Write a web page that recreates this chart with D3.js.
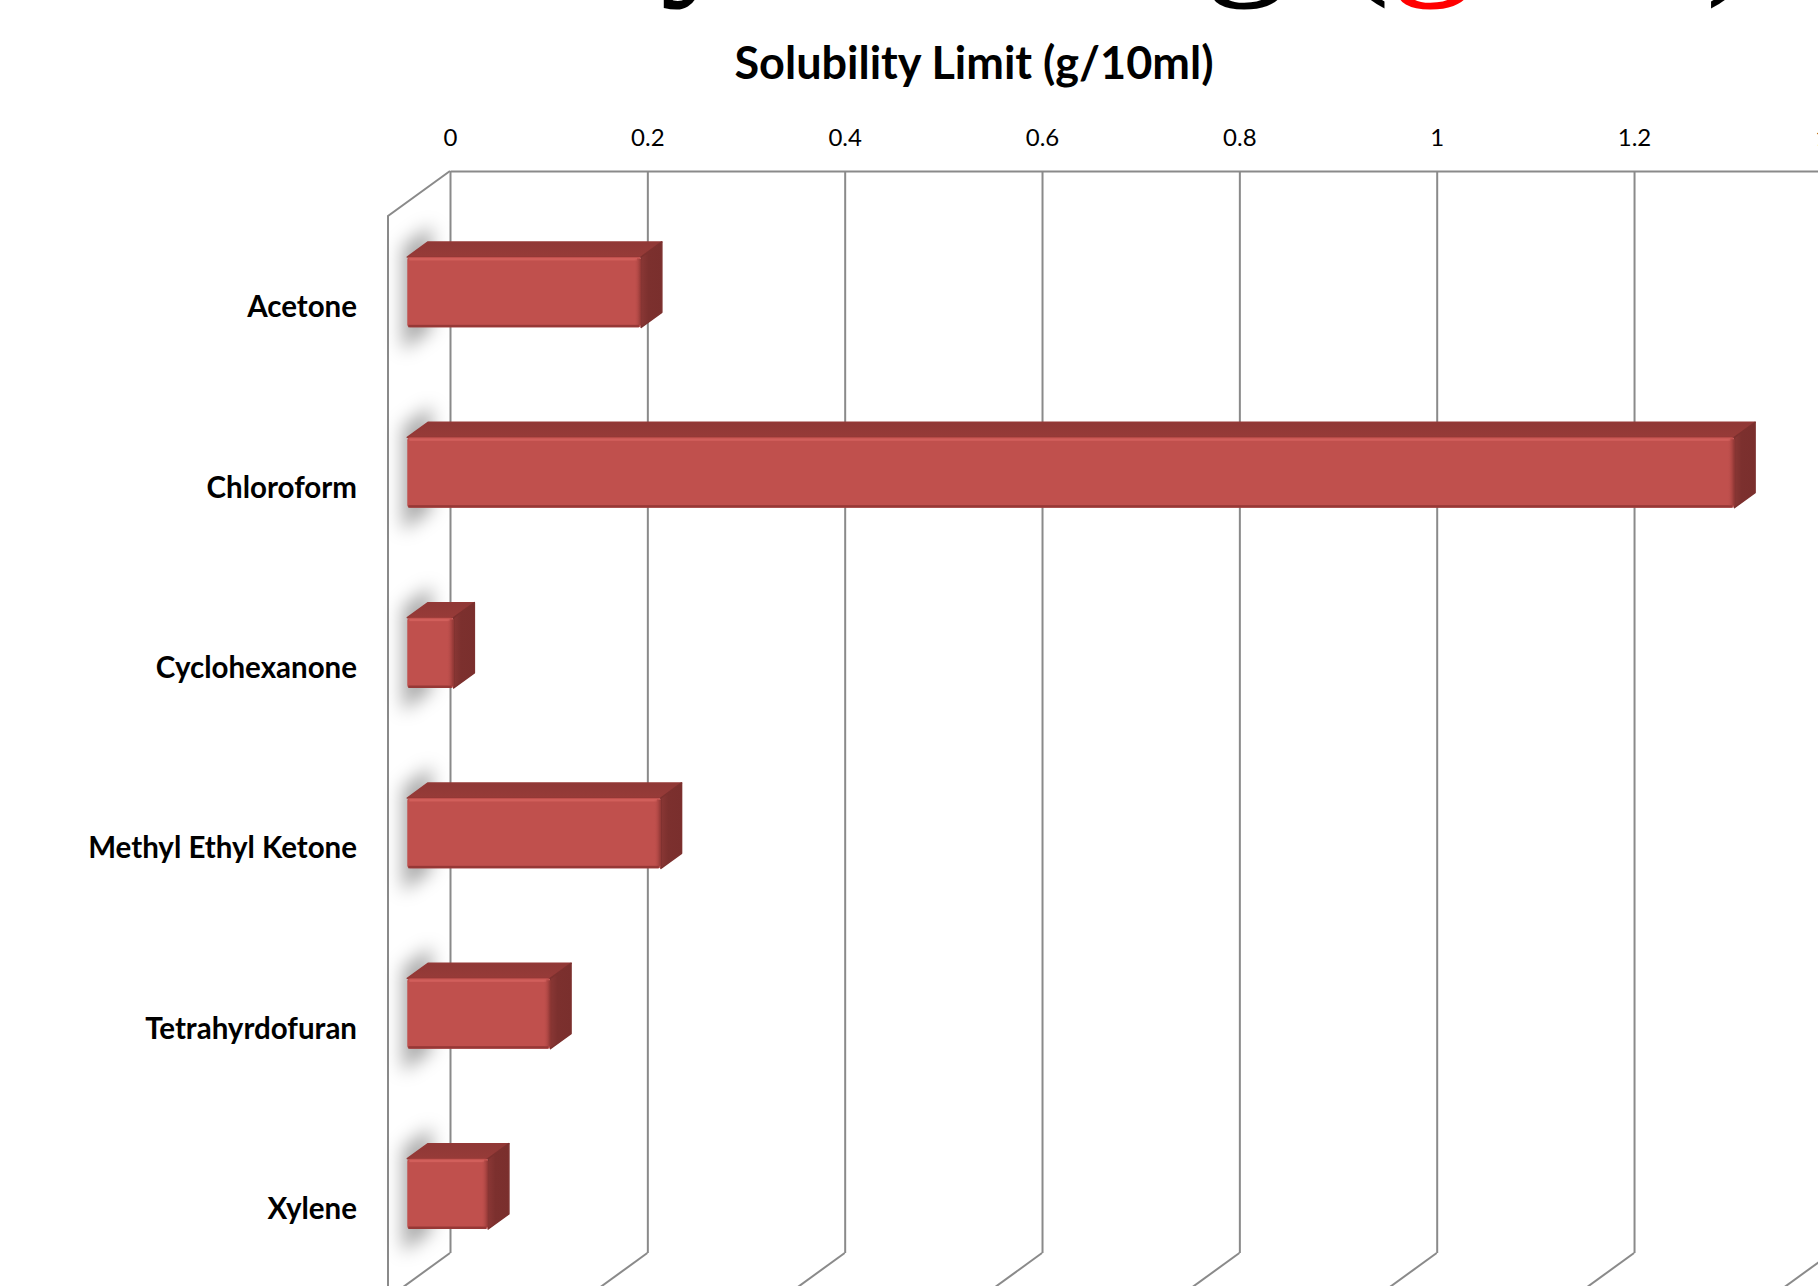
<!DOCTYPE html>
<html>
<head>
<meta charset="utf-8">
<script src="https://cdn.jsdelivr.net/npm/d3@7"></script>
<style>
  html, body { margin: 0; padding: 0; background: #ffffff; }
  svg { display: block; }
</style>
</head>
<body>
<svg id="chart" width="1818" height="1286"></svg>
<script>
// ---- data ----
const categories = ["Acetone", "Chloroform", "Cyclohexanone", "Methyl Ethyl Ketone", "Tetrahyrdofuran", "Xylene"];
const solubility = [0.237, 1.345, 0.047, 0.257, 0.145, 0.082];
const tickValues = [0, 0.2, 0.4, 0.6, 0.8, 1, 1.2, 1.4];
const tickLabels = ["0", "0.2", "0.4", "0.6", "0.8", "1", "1.2", "1.4"];
const headingParts = ["Solubility Testing (", "g/ml", ")"];
const headingColors = ["#000000", "#ff0000", "#000000"];
const axisTitle = "Solubility Limit (g/10ml)";

// ---- layout ----
const svg = d3.select("#chart");
const depthVec = [62, -45];          // offset from the front plane to the back wall
const barFront = 0.311, barBack = 0.645; // depth fractions of the bar faces
const unitPx = 986.7;

const x = d3.scaleLinear().domain([0, 1.4]).range([388, 388 + 1.4 * unitPx]);
const xBack = d3.scaleLinear().domain([0, 1.4]).range([388 + depthVec[0], 388 + depthVec[0] + 1.4 * unitPx]);
const y = d3.scaleBand().domain(categories).range([216, 1298]).paddingInner(0.61).paddingOuter(0.305);
const yTop = y.range()[0], yBottom = y.range()[1];

// oblique projection: value, front-plane y, depth fraction
function P(v, yy, u) { return [x(v) + depthVec[0] * u, yy + depthVec[1] * u]; }

const defs = svg.append("defs");
defs.append("filter").attr("id", "softShadow")
  .attr("x", "-100%").attr("y", "-50%").attr("width", "300%").attr("height", "200%")
  .append("feGaussianBlur").attr("stdDeviation", 9);

const rightBevel = defs.append("linearGradient").attr("id", "rightBevel")
  .attr("x1", 0).attr("x2", 1).attr("y1", 0).attr("y2", 0);
rightBevel.append("stop").attr("offset", 0).attr("stop-color", "#c0504d").attr("stop-opacity", 0);
rightBevel.append("stop").attr("offset", 1).attr("stop-color", "#7a2c2a").attr("stop-opacity", 0.75);

const sideGrad = defs.append("linearGradient").attr("id", "sideGrad")
  .attr("x1", 0).attr("x2", 1).attr("y1", 0).attr("y2", 0);
sideGrad.append("stop").attr("offset", 0).attr("stop-color", "#8a3735");
sideGrad.append("stop").attr("offset", 0.35).attr("stop-color", "#7c302e");
sideGrad.append("stop").attr("offset", 1).attr("stop-color", "#7a2f2d");

const topGrad = defs.append("linearGradient").attr("id", "topGrad")
  .attr("x1", 0).attr("x2", 0).attr("y1", 0).attr("y2", 1);
topGrad.append("stop").attr("offset", 0).attr("stop-color", "#8f3836");
topGrad.append("stop").attr("offset", 1).attr("stop-color", "#973b38");

// ---- heading (runs off the top edge) ----
const heading = svg.append("text")
  .attr("x", 915).attr("y", -28)
  .attr("text-anchor", "middle")
  .attr("font-family", "Liberation Serif, Times New Roman, serif")
  .attr("font-size", 172);
heading.selectAll("tspan").data(headingParts).join("tspan")
  .attr("fill", (d, i) => headingColors[i])
  .text(d => d);

// ---- axis title ----
svg.append("text")
  .attr("x", 974).attr("y", 79)
  .attr("text-anchor", "middle")
  .style("font-family", "Lato, 'Open Sans', sans-serif")
  .style("font-weight", "700")
  .style("font-size", "45px")
  .attr("fill", "#000")
  .text(axisTitle);

// ---- walls and gridlines ----
const gridColor = "#8a8a8a";
const walls = svg.append("g").attr("fill", "none").attr("stroke", gridColor).attr("stroke-width", 2);

// side wall edges at value 0
walls.append("path").attr("d", d3.line()([P(0, yTop, 1), P(0, yTop, 0), P(0, yBottom + 40, 0)]));

// floor continuation of every gridline
walls.selectAll("path.floor").data(tickValues).join("path").attr("class", "floor")
  .attr("d", t => d3.line()([P(t, yBottom, 1), P(t, yBottom, 0)]));

// back wall: value axis along the top with gridlines dropping down
const axis = d3.axisTop(xBack)
  .tickValues(tickValues)
  .tickFormat((d, i) => tickLabels[i])
  .tickSizeInner(-(yBottom - yTop))
  .tickSizeOuter(0)
  .tickPadding(25);

const axisG = svg.append("g")
  .attr("transform", `translate(0,${yTop + depthVec[1]})`)
  .call(axis);
axisG.select(".domain").attr("stroke", gridColor).attr("stroke-width", 2);
axisG.selectAll(".tick line").attr("stroke", gridColor).attr("stroke-width", 2);
axisG.selectAll(".tick text")
  .attr("fill", "#000")
  .style("font-family", "Lato, 'Open Sans', sans-serif")
  .style("font-size", "24px");

// ---- category labels ----
svg.append("g").selectAll("text").data(categories).join("text")
  .attr("x", 357)
  .attr("y", d => y(d) + y.bandwidth() / 2 + 11)
  .attr("text-anchor", "end")
  .style("font-family", "Lato, 'Open Sans', sans-serif")
  .style("font-weight", "700")
  .style("font-size", "29.5px")
  .attr("fill", "#000")
  .text(d => d);

// ---- bars ----
const rows = categories.map((c, i) => ({ cat: c, val: solubility[i] }));
const bw = y.bandwidth();

// soft shadows on the side wall
svg.append("g").attr("filter", "url(#softShadow)")
  .selectAll("path").data(rows).join("path")
  .attr("fill", "#000").attr("fill-opacity", 0.34)
  .attr("d", d => {
    const y0 = y(d.cat) - 14, y1 = y(d.cat) + bw + 20;
    return d3.line()([P(0, y0, 0.24), P(0, y0, 0.7), P(0, y1, 0.7), P(0, y1, 0.24)]) + "Z";
  });

const bars = svg.append("g").selectAll("g").data(rows).join("g");

// top face
bars.append("path")
  .attr("fill", "url(#topGrad)")
  .attr("stroke", "#943836").attr("stroke-width", 1.5).attr("stroke-linejoin", "round")
  .attr("d", d => {
    const y0 = y(d.cat);
    return d3.line()([P(0, y0, barFront), P(d.val, y0, barFront), P(d.val, y0, barBack), P(0, y0, barBack)]) + "Z";
  });

// right end face
bars.append("path")
  .attr("fill", "url(#sideGrad)")
  .attr("stroke", "#7c302e").attr("stroke-width", 1.5).attr("stroke-linejoin", "round")
  .attr("d", d => {
    const y0 = y(d.cat), y1 = y(d.cat) + bw;
    return d3.line()([P(d.val, y0, barFront), P(d.val, y0, barBack), P(d.val, y1, barBack), P(d.val, y1, barFront)]) + "Z";
  });

// front face with bevelled edges
const frontX = d => P(0, 0, barFront)[0];
const frontY = d => P(0, y(d.cat), barFront)[1];
const frontW = d => x(d.val) - x(0);

bars.append("rect")
  .attr("x", frontX).attr("y", frontY)
  .attr("width", frontW).attr("height", bw)
  .attr("rx", 3)
  .attr("fill", "#c0504d");

bars.append("rect")
  .attr("x", d => frontX(d) + 2).attr("y", d => frontY(d) + 1)
  .attr("width", d => Math.max(0, frontW(d) - 6)).attr("height", 2.5)
  .attr("fill", "#d4635f").attr("fill-opacity", 0.8);

bars.append("rect")
  .attr("x", d => frontX(d) + 1).attr("y", d => frontY(d) + bw - 2.5)
  .attr("width", d => Math.max(0, frontW(d) - 3)).attr("height", 2.5)
  .attr("fill", "#8e3432").attr("fill-opacity", 0.85);

bars.append("rect")
  .attr("x", d => frontX(d) + frontW(d) - 7).attr("y", d => frontY(d) + 2)
  .attr("width", 7).attr("height", bw - 4)
  .attr("fill", "url(#rightBevel)");
</script>
</body>
</html>
